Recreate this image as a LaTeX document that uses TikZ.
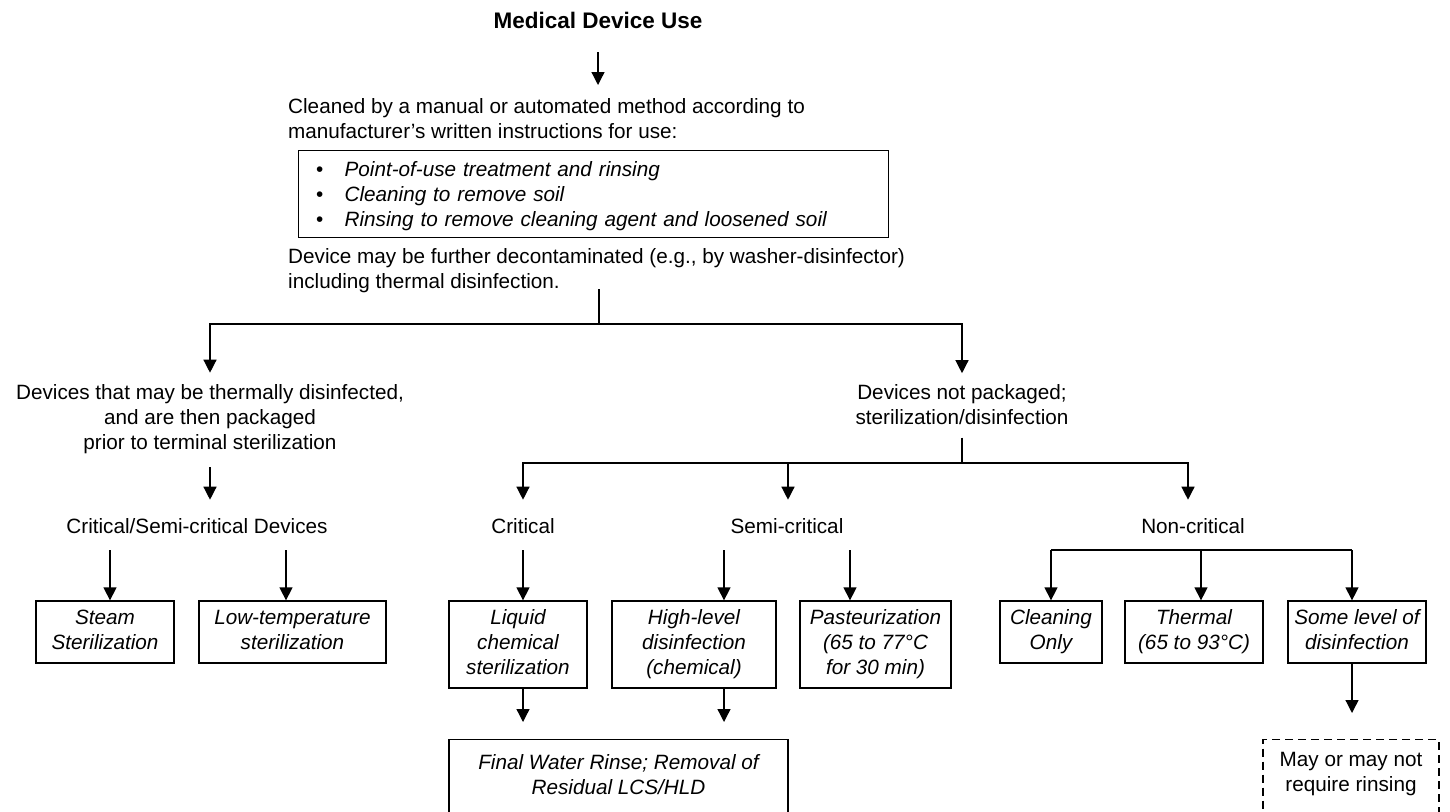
\documentclass[tikz,border=0pt]{standalone}
\usepackage{fontspec}
\setmainfont{Liberation Sans}
\usetikzlibrary{arrows.meta}
\begin{document}
\begin{tikzpicture}[x=1pt,y=-1pt,
  every node/.style={inner sep=0pt, font=\fontsize{20.7}{25}\selectfont},
  boxbase/.style={draw, line width=1.3pt, align=center},
  box/.style={boxbase, font=\fontsize{20.7}{25}\selectfont\itshape},
  arr/.style={line width=1.3pt, -{Triangle[length=13pt,width=13pt]}},
  ln/.style={line width=1.3pt},
]
\useasboundingbox (0,0) rectangle (1450,811);
\clip (0,0) rectangle (1450,811);

% text nodes
\node[font=\fontsize{22.5}{27}\selectfont\bfseries] (title) at (598,20) {Medical Device Use};
\node[anchor=north west, align=left] (clean) at (288,96)
  {\strut Cleaned by a manual or automated method according to\\\strut manufacturer’s written instructions for use:};
\node[draw, line width=1.3pt, anchor=north west, minimum width=590pt, minimum height=87pt,
      text width=555pt, align=left] (list) at (298,150)
  {\rule{0pt}{22.5pt}\makebox[28.5pt][l]{\textbullet}\textit{Point-of-use treatment and rinsing}\\
   \strut\makebox[28.5pt][l]{\textbullet}\textit{Cleaning to remove soil}\\
   \strut\makebox[28.5pt][l]{\textbullet}\textit{Rinsing to remove cleaning agent and loosened soil}};
\node[anchor=north west, align=left] (device) at (288,246)
  {\strut Device may be further decontaminated (e.g., by washer-disinfector)\\\strut including thermal disinfection.};

\node[align=center] (left) at (210,419.4)
  {\strut Devices that may be thermally disinfected,\\\strut and are then packaged\\\strut prior to terminal sterilization};
\node[align=center] (right) at (962,407.4)
  {\strut Devices not packaged;\\\strut sterilization/disinfection};

\node (csd) at (197,528.4) {\strut Critical/Semi-critical Devices};
\node (crit) at (523,528.4) {\strut Critical};
\node (semi) at (787,528.4) {\strut Semi-critical};
\node (noncrit) at (1193,528.4) {\strut Non-critical};

% boxes
\node[box, minimum width=138pt, minimum height=62pt] (steam) at (105,632) {\strut Steam\\\strut Sterilization};
\node[box, minimum width=187pt, minimum height=62pt] (lowtemp) at (292.5,632) {\strut Low-temperature\\\strut sterilization};
\node[box, minimum width=138pt, minimum height=87pt] (liquid) at (518,644.5) {\strut Liquid\\\strut chemical\\\strut sterilization};
\node[box, minimum width=164pt, minimum height=87pt] (high) at (694,644.5) {\strut High-level\\\strut disinfection\\\strut (chemical)};
\node[box, minimum width=151pt, minimum height=87pt] (past) at (875.5,644.5) {\strut Pasteurization\\\strut (65 to 77°C\\\strut for 30 min)};
\node[box, anchor=north, minimum width=339pt, minimum height=100pt] (final) at (618.5,739) {\strut Final Water Rinse; Removal of\\\strut Residual LCS/HLD\\\strut};
\node[box, minimum width=102pt, minimum height=62pt] (cleanonly) at (1051,632) {\strut Cleaning\\\strut Only};
\node[box, minimum width=138pt, minimum height=62pt] (thermal) at (1194,632) {\strut Thermal\\\strut (65 to 93°C)};
\node[box, minimum width=138pt, minimum height=62pt] (some) at (1357,632) {\strut Some level of\\\strut disinfection};
\node[boxbase, dash pattern=on 8pt off 5pt, anchor=north, minimum width=176pt, minimum height=94pt] (maybe) at (1351,739) {\strut May or may not\\\strut require rinsing\\\strut};

% junctions
\coordinate (j1) at (599,324);
\coordinate (j2) at (962,463);
\coordinate (nbL) at (1051,550);
\coordinate (nbM) at (1201,550);
\coordinate (nbR) at (1352,550);

% connectors
\draw[arr, shorten <=24pt, shorten >=11pt] (title.south) -- (title.south |- clean.north);
\draw[ln, shorten <=-7pt] (device.south -| j1) -- (j1);
\draw[arr, shorten >=9pt] (j1) -| (left.north);
\draw[arr, shorten >=9pt] (j1) -| (right.north);
\draw[arr, shorten <=10pt, shorten >=16pt] (left.south) -- (left.south |- csd.north);
\draw[ln, shorten <=5pt] (right.south) -- (j2);
\draw[arr, shorten >=16pt] (j2) -| (crit.north);
\draw[arr, shorten >=16pt] (j2) -| ([xshift=1pt]semi.north);
\draw[arr, shorten >=16pt] (j2) -| ([xshift=-5pt]noncrit.north);

\draw[arr, shorten <=9pt] ([xshift=-87pt]csd.south) -- ([xshift=-87pt]csd.south |- steam.north);
\draw[arr, shorten <=9pt] ([xshift=89pt]csd.south) -- ([xshift=89pt]csd.south |- lowtemp.north);
\draw[arr, shorten <=9pt] (crit.south) -- (crit.south |- liquid.north);
\draw[arr, shorten <=9pt] ([xshift=-63pt]semi.south) -- ([xshift=-63pt]semi.south |- high.north);
\draw[arr, shorten <=9pt] ([xshift=63pt]semi.south) -- ([xshift=63pt]semi.south |- past.north);

\draw[ln] (nbL) -- (nbR);
\draw[arr] (nbL) -- (nbL |- cleanonly.north);
\draw[arr] (nbM) -- (nbM |- thermal.north);
\draw[arr] (nbR) -- (nbR |- some.north);

\draw[arr, shorten >=17pt] ([xshift=5pt]liquid.south) -- ([xshift=5pt]liquid.south |- final.north);
\draw[arr, shorten >=17pt] ([xshift=30pt]high.south) -- ([xshift=30pt]high.south |- final.north);
\draw[arr, shorten >=26pt] ([xshift=-5pt]some.south) -- ([xshift=-5pt]some.south |- maybe.north);
\end{tikzpicture}
\end{document}
